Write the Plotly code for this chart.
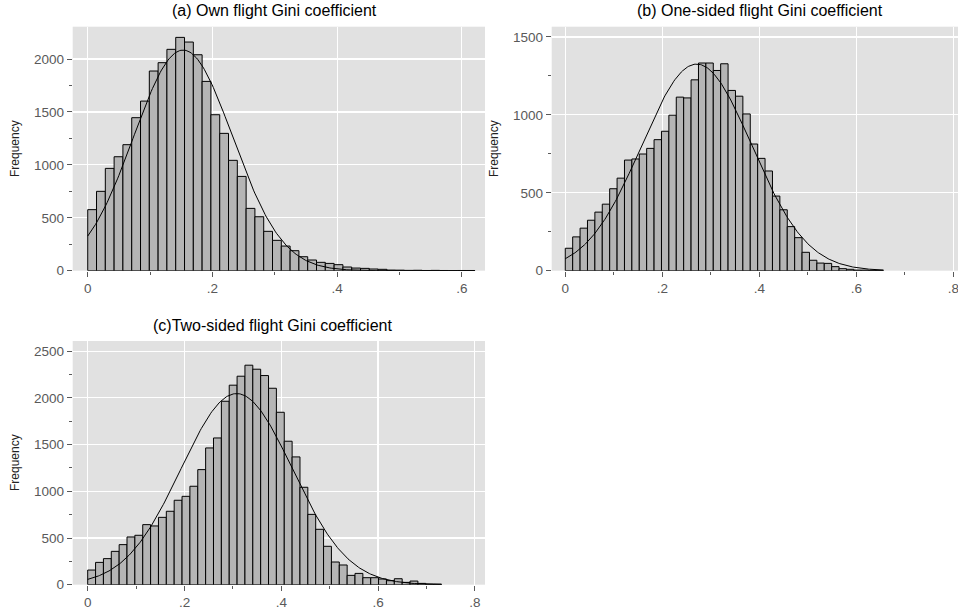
import numpy as np
import plotly.graph_objects as go

# ---------------- data ----------------
# (a) Own flight Gini coefficient: 44 bins over [0, 0.621]
a_counts = [577, 750, 967, 1077, 1191, 1446, 1603, 1887, 1966, 2092,
            2205, 2161, 2041, 1789, 1474, 1298, 1043, 891, 589, 510,
            372, 287, 233, 189, 132, 101, 79, 69, 57, 35,
            25, 22, 16, 13, 6, 5, 3, 4, 2, 3,
            2, 1, 2, 2]
a_min, a_max = 0.0, 0.621
a_mu, a_sd, a_peak = 0.153, 0.0795, 2085

# (b) One-sided flight Gini coefficient: 43 bins over [0, 0.656]
b_counts = [144, 217, 273, 324, 376, 427, 526, 594, 710, 717,
            749, 785, 841, 895, 998, 1114, 1109, 1225, 1333, 1333,
            1285, 1328, 1157, 1120, 1006, 813, 721, 640, 479, 391,
            283, 212, 118, 67, 49, 47, 26, 13, 9, 4,
            4, 2, 2]
b_min, b_max = 0.0, 0.656
b_mu, b_sd, b_peak = 0.271, 0.1135, 1326

# (c) Two-sided flight Gini coefficient: 45 bins over [0, 0.731]
c_counts = [157, 239, 279, 357, 429, 511, 529, 643, 629, 721,
            786, 904, 946, 1054, 1232, 1464, 1571, 1964, 2136, 2232,
            2350, 2307, 2239, 2103, 1846, 1536, 1368, 1043, 753, 593,
            411, 243, 211, 100, 121, 75, 75, 61, 43, 64,
            25, 39, 14, 7, 7]
c_min, c_max = 0.0, 0.731
c_mu, c_sd, c_peak = 0.3078, 0.115, 2046

titles = ["(a) Own flight Gini coefficient",
          "(b) One-sided flight Gini coefficient",
          "(c)Two-sided flight Gini coefficient"]
x_tickvals_a = [0, 0.2, 0.4, 0.6]
x_tickvals_bc = [0, 0.2, 0.4, 0.6, 0.8]
x_ticktext = ["0", ".2", ".4", ".6", ".8"]
x_minor_a = [0.1, 0.3, 0.5]
x_minor_bc = [0.1, 0.3, 0.5, 0.7]
y_ticks_a = [0, 500, 1000, 1500, 2000]
y_ticks_b = [0, 500, 1000, 1500]
y_ticks_c = [0, 500, 1000, 1500, 2000, 2500]
y_title = "Frequency"

# ---------------- figure ----------------
W, H = 958, 609
BAR = "#b5b5b5"
GRID = "#ffffff"
TICKC = "#595959"
FONT = "Liberation Sans, Arial, sans-serif"

fig = go.Figure()

panels = [
    (a_counts, a_min, a_max, a_mu, a_sd, a_peak, "x", "y"),
    (b_counts, b_min, b_max, b_mu, b_sd, b_peak, "x2", "y2"),
    (c_counts, c_min, c_max, c_mu, c_sd, c_peak, "x3", "y3"),
]
for counts, lo, hi, mu, sd, peak, xa, ya in panels:
    n = len(counts)
    bw = (hi - lo) / n
    centers = lo + bw * (np.arange(n) + 0.5)
    fig.add_trace(go.Bar(x=centers, y=counts, width=bw, xaxis=xa, yaxis=ya,
                         marker=dict(color=BAR, line=dict(color="black", width=1)),
                         showlegend=False, hoverinfo="skip"))
    xs = np.linspace(lo, hi, 300)
    ys = peak * np.exp(-((xs - mu) ** 2) / (2 * sd ** 2))
    fig.add_trace(go.Scatter(x=xs, y=ys, mode="lines", xaxis=xa, yaxis=ya,
                             line=dict(color="black", width=1),
                             showlegend=False, hoverinfo="skip"))


def px_x(p):
    return p / W


def px_y(p):
    return 1 - p / H


def xaxis(domain, rng, tickvals, minor_vals, anchor):
    return dict(domain=domain, range=rng, anchor=anchor, automargin=False,
                tickmode="array", tickvals=tickvals,
                ticktext=x_ticktext[:len(tickvals)],
                ticks="outside", ticklen=5, tickwidth=1, tickcolor=TICKC,
                tickfont=dict(family=FONT, size=13.5, color=TICKC),
                ticklabeloverflow="allow",
                showgrid=True, gridcolor=GRID, gridwidth=1.2,
                zeroline=False, showline=False, fixedrange=True,
                minor=dict(tickmode="array", tickvals=minor_vals, ticks="outside",
                           ticklen=3, tickwidth=1, tickcolor=TICKC, showgrid=False))


def yaxis(domain, rng, tickvals, anchor):
    minor_vals = [v + 250 for v in tickvals[:-1]]
    return dict(domain=domain, range=rng, anchor=anchor, automargin=False,
                tickmode="array", tickvals=tickvals,
                ticktext=[str(v) for v in tickvals],
                ticks="outside", ticklen=5, tickwidth=1, tickcolor=TICKC,
                tickfont=dict(family=FONT, size=13.5, color=TICKC),
                ticklabeloverflow="allow",
                showgrid=True, gridcolor=GRID, gridwidth=1.2,
                zeroline=False, showline=False, fixedrange=True,
                minor=dict(tickmode="array", tickvals=minor_vals, ticks="outside",
                           ticklen=3, tickwidth=1, tickcolor=TICKC, showgrid=False))


dom_x_left = [px_x(72.7), px_x(485)]
dom_x_right = [px_x(551.7), 1.0]
dom_y_top = [px_y(270.7), px_y(26.7)]
dom_y_bot = [px_y(584.7), px_y(341)]

fig.update_layout(
    width=W, height=H,
    margin=dict(l=0, r=0, t=0, b=0, autoexpand=False),
    paper_bgcolor="white", plot_bgcolor="#e1e1e1",
    bargap=0, barmode="overlay",
    font=dict(family=FONT),
    xaxis=xaxis(dom_x_left, [-0.0241, 0.6372], x_tickvals_a, x_minor_a, "y"),
    yaxis=yaxis(dom_y_top, [0, 2306], y_ticks_a, "x"),
    xaxis2=xaxis(dom_x_right, [-0.0280, 0.8097], x_tickvals_bc, x_minor_bc, "y2"),
    yaxis2=yaxis(dom_y_top, [0, 1566], y_ticks_b, "x2"),
    xaxis3=xaxis(dom_x_left, [-0.0310, 0.8209], x_tickvals_bc, x_minor_bc, "y3"),
    yaxis3=yaxis(dom_y_bot, [0, 2609], y_ticks_c, "x3"),
)

ann = []
for txt, cx, cy in [(titles[0], 274, 11), (titles[1], 760, 11), (titles[2], 272, 325)]:
    ann.append(dict(text=txt, x=px_x(cx), y=px_y(cy), xref="paper", yref="paper",
                    xanchor="center", yanchor="middle", showarrow=False,
                    font=dict(family=FONT, size=16, color="black")))
for cx, cy in [(15, 149), (494, 149), (15, 463)]:
    ann.append(dict(text=y_title, x=px_x(cx), y=px_y(cy), xref="paper", yref="paper",
                    xanchor="center", yanchor="middle", showarrow=False, textangle=-90,
                    font=dict(family=FONT, size=12, color="#222222")))
fig.update_layout(annotations=ann)

fig.write_html("out.html",
               config={"displayModeBar": False, "staticPlot": True},
               post_script="document.body.style.margin='0';document.body.style.overflow='hidden';")
